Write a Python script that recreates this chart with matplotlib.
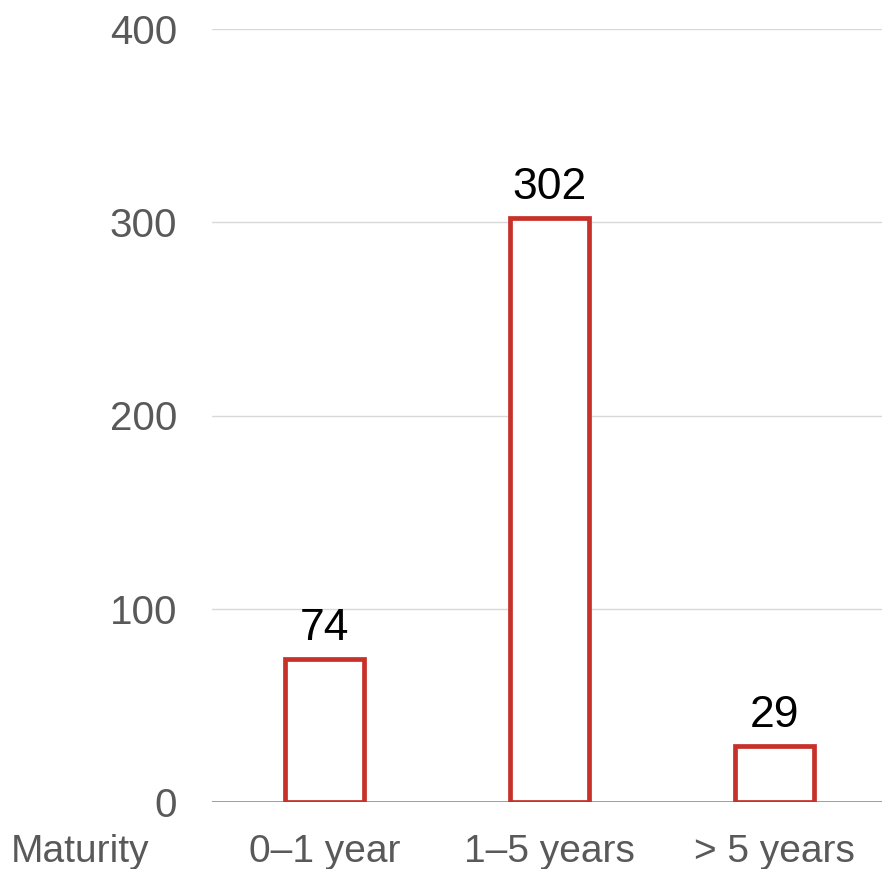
import matplotlib.pyplot as plt

plt.rcParams['font.family'] = ['Liberation Sans', 'DejaVu Sans']

# datos del grafico
categorias = ["0\u20131 year", "1\u20135 years", "> 5 years"]
valores = [74, 302, 29]
marcas_y = [0, 100, 200, 300, 400]

fig = plt.figure(figsize=(8.82, 8.69), dpi=100)
ax = fig.add_axes([212/882, 67/869, 1 - 212/882, (802-29)/869])

x = list(range(len(categorias)))
barras = ax.bar(x, valores, width=0.35, facecolor="white", edgecolor="#c8302a",
                linewidth=3.4, zorder=3)

for xi, v in zip(x, valores):
    ax.annotate(str(v), (xi, v), xytext=(0, 14), textcoords="offset points",
                ha="center", va="baseline", fontsize=32, color="black")

ax.set_xlim(-0.5, 2.478)
ax.set_ylim(0, 400)
ax.set_yticks(marcas_y)
ax.set_xticks(x)
ax.set_xticklabels(categorias)

# lineas de la grilla
for m in marcas_y[1:]:
    ax.axhline(m, color="#d9d9d9", linewidth=1, zorder=1)
ax.axhline(0, color="#8c8c8c", linewidth=1.2, zorder=2)

for s in ax.spines.values():
    s.set_visible(False)
ax.tick_params(axis="y", length=0, labelsize=29, labelcolor="#595959", pad=25)
ax.tick_params(axis="x", length=0, labelsize=28, labelcolor="#595959", pad=23)

ax.annotate("Maturity", xy=(80, 0), xycoords=("figure pixels", "axes fraction"),
            xytext=(0, -23), textcoords="offset points", ha="center", va="top",
            fontsize=28, color="#595959")

fig.savefig("out.png", dpi=100)
